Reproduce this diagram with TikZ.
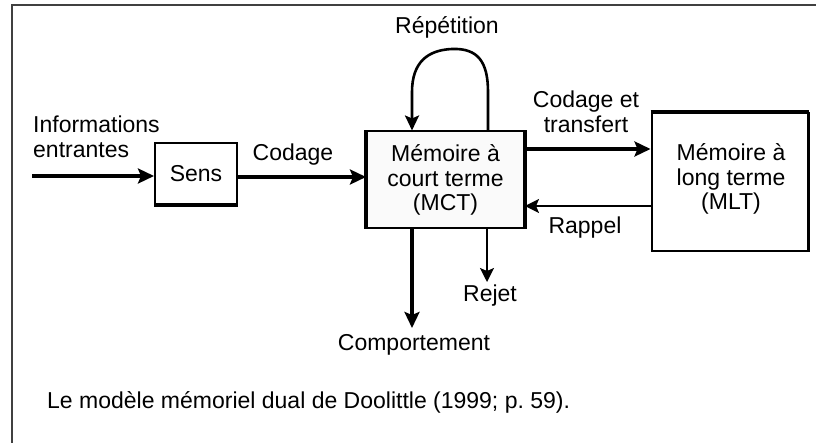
\documentclass[tikz,border=0pt]{standalone}
\usepackage{fontspec}
\setmainfont{Liberation Sans}
\usetikzlibrary{arrows.meta}
\begin{document}
\begin{tikzpicture}[x=1pt,y=-1pt,
  every node/.style={font=\fontsize{23}{24.5}\selectfont, inner sep=0pt},
  boxnode/.style={draw, line width=2pt, align=center},
  thickarrow/.style={line width=3.5pt, -{Stealth[length=16pt,width=15pt,inset=3pt]}},
  thinarrow/.style={line width=1.8pt, -{Stealth[length=14pt,width=14pt,inset=3pt]}},
  looparrow/.style={line width=2.6pt, -{Stealth[length=15pt,width=14pt,inset=3pt]}},
  heavyside/.style={line width=3.5pt}]
\useasboundingbox (0,0) rectangle (816,443);
% frame
\draw[line width=2pt, black!75] (816,5) -- (11.5,5) -- (11.5,443);

% boxes
\node[boxnode, minimum width=82pt, minimum height=61pt] (sens) at (196,173.5) {Sens};
\node[boxnode, fill=black!2, minimum width=157pt, minimum height=97pt] (mct) at (445.5,180) {M\'emoire \`a\\court terme\\(MCT)};
\node[boxnode, minimum width=156pt, minimum height=138pt] (mlt) at (729.5,182) {};
\node[align=center] (mlttext) at (731,179) {M\'emoire \`a\\long terme\\(MLT)};

% heavier sides
\draw[heavyside] (sens.south west) -- (sens.south east);
\draw[heavyside] (mct.north west) -- (mct.south west);
\draw[heavyside] (mct.north east) -- (mct.south east);
\draw[heavyside] (mlt.north west) -- (mlt.north east);
\draw[heavyside] (mlt.north east) -- (mlt.south east);

% labels
\node (rep) at (447,27) {R\'ep\'etition};
\node[align=center] (ct) at (586,112) {Codage et\\transfert};
\node (rap) at (585,228) {Rappel};
\node (cod) at (293,155) {Codage};
\node[align=left, anchor=west] (info) at (33,137) {Informations\\entrantes};
\node (comp) at (414,345) {Comportement};
\node (rej) at (490,296) {Rejet};
\node[anchor=west] (cap) at (47,402) {Le mod\`ele m\'emoriel dual de Doolittle (1999; p.~59).};

% coordinates
\coordinate (start) at (32,176);
\coordinate (y177) at (0,177);
\coordinate (y149) at (0,149);
\coordinate (y206) at (0,206);
\coordinate (x412) at (412,0);
\coordinate (x488) at (488,0);
\coordinate (x487) at (487,0);
\coordinate (compend) at (412,328);
\coordinate (rejend) at (487,282);
\coordinate (loopr) at (488,92);
\coordinate (loopl) at (412,92);
\coordinate (looptop) at (452,49);

% connectors
\draw[thickarrow] (start) -- (start -| sens.west);
\draw[thickarrow] (sens.east |- y177) -- (mct.west |- y177);
\draw[thickarrow] (mct.east |- y149) -- (mlt.west |- y149);
\draw[thinarrow] (mlt.west |- y206) -- (mct.east |- y206);
\draw[thickarrow] (mct.south -| x412) -- (compend);
\draw[thinarrow] (mct.south -| x487) -- (rejend);
\draw[looparrow] (mct.north -| x488) -- (loopr)
  .. controls (488,62) and (478,48) .. (looptop)
  .. controls (428,50) and (412,62) .. (loopl)
  -- (mct.north -| x412);
\end{tikzpicture}
\end{document}
